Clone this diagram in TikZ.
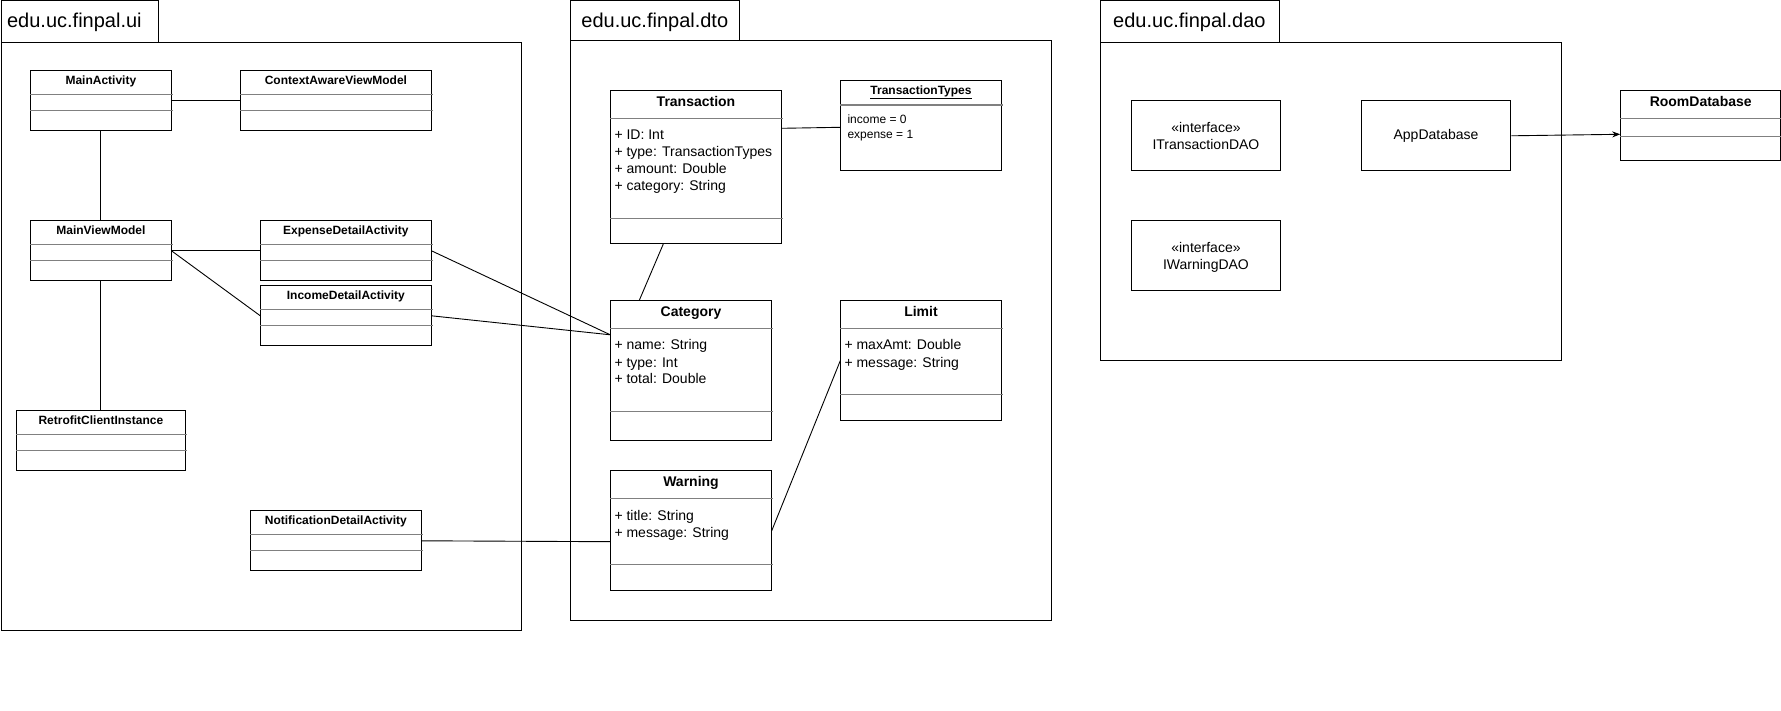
\documentclass[tikz,border=0pt]{standalone}
\usepackage{fontspec}
\setmainfont{Liberation Sans}
\usetikzlibrary{arrows.meta}
\definecolor{sepgray}{RGB}{128,128,128}

\tikzset{
  box/.style={draw=black, line width=1pt, fill=white, rectangle, inner sep=0pt, anchor=north west},
  pkgpart/.style={draw=black, line width=1pt, rectangle, inner sep=0pt, anchor=north west},
  sepline/.style={draw=sepgray, line width=1pt},
  link/.style={draw=black, line width=0.9pt},
  pkglabel/.style={font=\fontsize{20}{24}\selectfont, anchor=base, inner sep=0pt},
  smalltitle/.style={font=\fontsize{12}{14}\selectfont\bfseries, anchor=base, inner sep=0pt},
  bigtitle/.style={font=\fontsize{14}{17}\selectfont\bfseries, anchor=base, inner sep=0pt},
  attr/.style={font=\fontsize{14}{17}\selectfont, anchor=base west, inner sep=0pt},
  smallattr/.style={font=\fontsize{12}{14}\selectfont, anchor=base west, inner sep=0pt},
  plaintext/.style={font=\fontsize{14}{17}\selectfont, anchor=base, inner sep=0pt},
}

% class box: name, x, y, width, height
\newcommand{\umlbox}[5]{\node[box, minimum width=#4pt, minimum height=#5pt] (#1) at (#2,#3) {};}
% compartment line: box, offset below the top
\newcommand{\compline}[2]{\draw[sepline] ([yshift=-#2pt]#1.north west) -- ([yshift=-#2pt,xshift=1pt]#1.north east);}
% attribute lines: box, style, x offset, first baseline, line step, lines
\newcommand{\attrlines}[6]{%
  \foreach \t [count=\i from 0] in {#6}
    \node[#2] (#1-l\i) at ([xshift=#3pt, yshift={-(#4+#5*\i)*1pt}]#1.north west) {\t};}

\begin{document}
\begin{tikzpicture}[x=1pt, y=-1pt]
\useasboundingbox (0,0) rectangle (1781,711);

% ---------- packages ----------
\node[pkgpart, minimum width=157.9pt, minimum height=41.8pt] (uitab) at (0.5,0.5) {};
\node[pkgpart, minimum width=520.2pt, minimum height=588pt] (ui) at (0.5,42.3) {};
\node[pkglabel] (uilabel) at (74.4,27.7) {edu.uc.finpal.ui};

\node[pkgpart, minimum width=169pt, minimum height=39.8pt] (dtotab) at (570.3,0.5) {};
\node[pkgpart, minimum width=480.4pt, minimum height=580pt] (dto) at (570.3,40.3) {};
\node[pkglabel] (dtolabel) at (654.8,27.7) {edu.uc.finpal.dto};

\node[pkgpart, minimum width=178.5pt, minimum height=41.8pt] (daotab) at (1100.1,0.5) {};
\node[pkgpart, minimum width=460.6pt, minimum height=317.7pt] (dao) at (1100.1,42.3) {};
\node[pkglabel] (daolabel) at (1189.4,27.7) {edu.uc.finpal.dao};

% ---------- ui classes ----------
\umlbox{ma}{30.3}{70.3}{140.2}{60}
\compline{ma}{24}\compline{ma}{40}
\node[smalltitle] (ma-t) at ([yshift=-14pt]ma.north) {MainActivity};

\umlbox{cavm}{240.4}{70.3}{190.1}{60}
\compline{cavm}{24}\compline{cavm}{40}
\node[smalltitle] (cavm-t) at ([yshift=-14pt]cavm.north) {ContextAwareViewModel};

\umlbox{mvm}{30.3}{220.3}{140.2}{60}
\compline{mvm}{24}\compline{mvm}{40}
\node[smalltitle] (mvm-t) at ([yshift=-14pt]mvm.north) {MainViewModel};

\umlbox{exp}{260.3}{220.3}{170.2}{60}
\compline{exp}{24}\compline{exp}{40}
\node[smalltitle] (exp-t) at ([yshift=-14pt]exp.north) {ExpenseDetailActivity};

\umlbox{inc}{260.3}{285.3}{170.2}{60}
\compline{inc}{24}\compline{inc}{40}
\node[smalltitle] (inc-t) at ([yshift=-14pt]inc.north) {IncomeDetailActivity};

\umlbox{retro}{15.5}{410.3}{169.8}{60}
\compline{retro}{24}\compline{retro}{40}
\node[smalltitle] (retro-t) at ([yshift=-14pt]retro.north) {RetrofitClientInstance};

\umlbox{notif}{250.3}{510.3}{170.2}{60}
\compline{notif}{24}\compline{notif}{40}
\node[smalltitle] (notif-t) at ([yshift=-14pt]notif.north) {NotificationDetailActivity};

% ---------- dto classes ----------
\umlbox{trans}{610.3}{90.3}{170.4}{152.7}
\compline{trans}{28}\compline{trans}{128}
\node[bigtitle] (trans-t) at ([yshift=-16.4pt]trans.north) {Transaction};
\attrlines{trans}{attr}{4}{49.7}{17}{+ ID: Int, + type: TransactionTypes, + amount: Double, + category: String}

\umlbox{tt}{840.3}{80.3}{160.4}{90}
\draw[sepline, line width=1.5pt] ([yshift=-24.7pt]tt.north west) -- ([yshift=-24.7pt,xshift=1pt]tt.north east);
\node[smalltitle] (tt-t) at ([yshift=-14.3pt]tt.north) {\underline{TransactionTypes}};
\attrlines{tt}{smallattr}{7}{43.7}{14.3}{income = 0, expense = 1}

\umlbox{cat}{610.3}{300.3}{160.4}{140}
\compline{cat}{28}\compline{cat}{111}
\node[bigtitle] (cat-t) at ([yshift=-16.4pt]cat.north) {Category};
\attrlines{cat}{attr}{4}{49.7}{17}{+ name: String, + type: Int, + total: Double}

\umlbox{limit}{840.3}{300.3}{160.4}{119.7}
\compline{limit}{28}\compline{limit}{94}
\node[bigtitle] (limit-t) at ([yshift=-16.4pt]limit.north) {Limit};
\attrlines{limit}{attr}{4}{49.7}{17}{+ maxAmt: Double, + message: String}

\umlbox{warn}{610.3}{470.3}{160.4}{120}
\compline{warn}{28}\compline{warn}{94}
\node[bigtitle] (warn-t) at ([yshift=-16.4pt]warn.north) {Warning};
\attrlines{warn}{attr}{4}{49.7}{17}{+ title: String, + message: String}

% ---------- dao classes ----------
\umlbox{itdao}{1130.5}{100.3}{149.9}{70}
\node[plaintext] (itdao-s) at ([yshift=-32pt]itdao.north) {«interface»};
\node[plaintext] (itdao-n) at ([yshift=-49pt]itdao.north) {ITransactionDAO};

\umlbox{app}{1360.6}{100.3}{149.8}{70}
\node[plaintext] (app-n) at ([yshift=-39.5pt]app.north) {AppDatabase};

\umlbox{iwdao}{1130.5}{220.3}{149.9}{70}
\node[plaintext] (iwdao-s) at ([yshift=-32pt]iwdao.north) {«interface»};
\node[plaintext] (iwdao-n) at ([yshift=-49pt]iwdao.north) {IWarningDAO};

\umlbox{room}{1620.2}{90.3}{160}{70}
\compline{room}{28}\compline{room}{46}
\node[bigtitle] (room-t) at ([yshift=-16.4pt]room.north) {RoomDatabase};

% ---------- connector end points on box borders ----------
\coordinate (catin) at ([yshift=-34.5pt]cat.north west);
\coordinate (transout) at ([yshift=-38pt]trans.north east);
\coordinate (ttin) at ([yshift=-47pt]tt.north west);
\coordinate (transdown) at ([xshift=53pt]trans.south west);
\coordinate (catup) at ([xshift=29pt]cat.north west);
\coordinate (warnin) at ([yshift=-71.4pt]warn.north west);
\coordinate (roomin) at ([yshift=-44pt]room.north west);

% ---------- associations ----------
\draw[link] (ma.east) -- (cavm.west);
\draw[link] (ma.south) -- (mvm.north);
\draw[link] (mvm.east) -- (exp.west);
\draw[link] (mvm.east) -- (inc.west);
\draw[link] (mvm.south) -- (retro.north);
\draw[link] (exp.east) -- (catin);
\draw[link] (inc.east) -- (catin);
\draw[link] (notif.east) -- (warnin);
\draw[link] (transout) -- (ttin);
\draw[link] (transdown) -- (catup);
\draw[link] (limit.west) -- (warn.east);
\draw[link, -{Stealth[length=8pt, width=6pt]}] (app.east) -- (roomin);

\end{tikzpicture}
\end{document}
